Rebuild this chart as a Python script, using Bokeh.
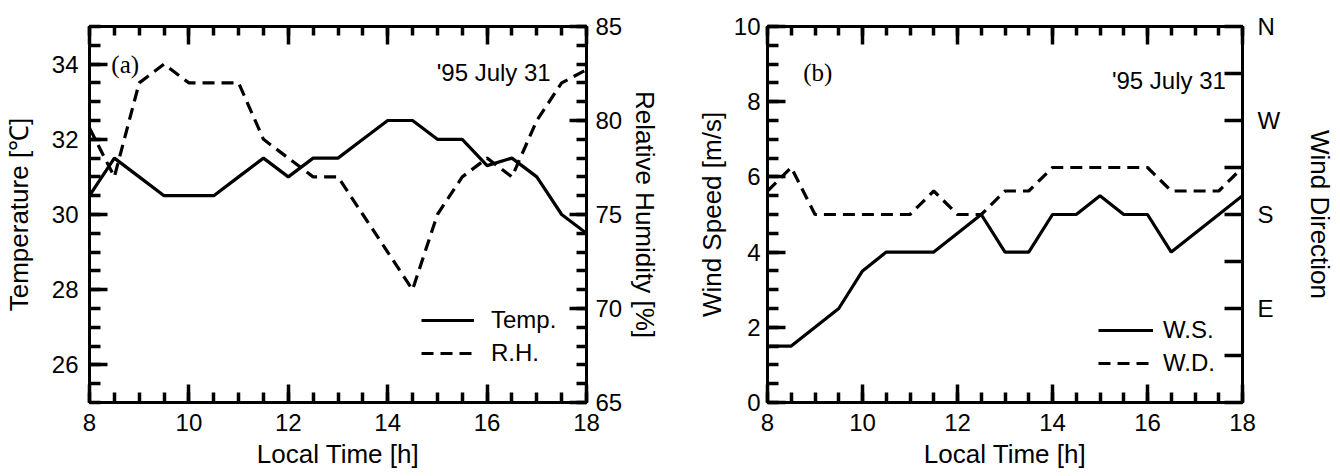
from bokeh.plotting import figure
from bokeh.models import (Range1d, LinearAxis, SingleIntervalTicker, FixedTicker,
                          Legend, LegendItem, Label, CustomLabelingPolicy)
from bokeh.layouts import row
from bokeh.embed import file_html
from bokeh.resources import INLINE

# ---------------- data ----------------
hours = [8.0, 8.5, 9.0, 9.5, 10.0, 10.5, 11.0, 11.5, 12.0, 12.5, 13.0,
         13.5, 14.0, 14.5, 15.0, 15.5, 16.0, 16.5, 17.0, 17.5, 18.0]
temp_c = [30.5, 31.5, 31.0, 30.5, 30.5, 30.5, 31.0, 31.5, 31.0, 31.5, 31.5,
          32.0, 32.5, 32.5, 32.0, 32.0, 31.3, 31.5, 31.0, 30.0, 29.5]
rel_hum = [79.6, 77.0, 82.0, 83.0, 82.0, 82.0, 82.0, 79.0, 78.0, 77.0, 77.0,
           75.0, 73.0, 71.0, 75.0, 77.0, 78.0, 77.0, 80.0, 82.0, 82.7]
wind_speed = [1.5, 1.5, 2.0, 2.5, 3.5, 4.0, 4.0, 4.0, 4.5, 5.0, 4.0,
              4.0, 5.0, 5.0, 5.5, 5.0, 5.0, 4.0, 4.5, 5.0, 5.5]
wind_dir = [202.5, 225.0, 180.0, 180.0, 180.0, 180.0, 180.0, 202.5, 180.0, 180.0, 202.5,
            202.5, 225.0, 225.0, 225.0, 225.0, 225.0, 202.5, 202.5, 202.5, 225.0]
dir_ticks = [90, 180, 270, 360]
dir_labels = ["E", "S", "W", "N"]
dir_minor_ticks = [0, 45, 135, 225, 315]

SANS = "Liberation Sans"
SERIF = "Liberation Serif"
DASH = "12 7"
TICK_FS = "24px"
TITLE_FS = "26px"


def style_axis(ax, major_in=18, minor_in=10, standoff=10, title_standoff=5):
    ax.axis_line_color = "black"
    ax.axis_line_width = 3
    ax.major_tick_in = major_in
    ax.major_tick_out = 0
    ax.minor_tick_in = minor_in
    ax.minor_tick_out = 0
    ax.major_tick_line_width = 3.5
    ax.minor_tick_line_width = 3.5
    ax.major_tick_line_color = "black"
    ax.minor_tick_line_color = "black"
    ax.major_label_text_font = SANS
    ax.major_label_text_font_size = TICK_FS
    ax.major_label_text_color = "black"
    ax.major_label_standoff = standoff
    ax.axis_label_text_font = SANS
    ax.axis_label_text_font_size = TITLE_FS
    ax.axis_label_text_font_style = "normal"
    ax.axis_label_text_color = "black"
    ax.axis_label_standoff = title_standoff


def base_fig(width, ymin, ymax, bl, br, bt, bb):
    p = figure(width=width, height=474, x_range=Range1d(8, 18), y_range=Range1d(ymin, ymax),
               output_backend="svg", toolbar_location=None,
               min_border_left=bl, min_border_right=br, min_border_top=bt, min_border_bottom=bb)
    p.xgrid.visible = False
    p.ygrid.visible = False
    p.outline_line_color = "black"
    p.outline_line_width = 3
    p.background_fill_color = "white"
    p.border_fill_color = "white"
    return p


def top_ticks(p):
    # mirrored time axis on the top edge: ticks only, no labels drawn
    ax = LinearAxis(ticker=SingleIntervalTicker(interval=2, num_minor_ticks=4))
    style_axis(ax, major_in=18, minor_in=9, standoff=0, title_standoff=0)
    ax.major_label_text_font_size = "0px"
    ax.major_label_policy = CustomLabelingPolicy(code="""
        for (const i of indices) { indices.unset(i) }
        return indices
    """)
    p.add_layout(ax, "above")


# ---------------- panel (a) ----------------
pa = base_fig(688, 25, 35, 88, 102, 26, 72)
pa.extra_y_ranges = {"rh": Range1d(65, 85)}

pa.xaxis[0].ticker = SingleIntervalTicker(interval=2, num_minor_ticks=4)
pa.xaxis[0].axis_label = "Local Time [h]"
style_axis(pa.xaxis[0], standoff=11, title_standoff=5)

pa.yaxis[0].ticker = SingleIntervalTicker(interval=2, num_minor_ticks=4)
pa.yaxis[0].axis_label = "Temperature [℃]"
style_axis(pa.yaxis[0], minor_in=11, standoff=11, title_standoff=15)

rh_axis = LinearAxis(y_range_name="rh", ticker=SingleIntervalTicker(interval=5, num_minor_ticks=5),
                     axis_label="Relative Humidity [%]")
style_axis(rh_axis, major_in=17, minor_in=10, standoff=9, title_standoff=5)
pa.add_layout(rh_axis, "right")
top_ticks(pa)

r_t = pa.line(hours, temp_c, line_color="black", line_width=3.2)
r_h = pa.line(hours, rel_hum, y_range_name="rh", line_color="black", line_width=3.2,
              line_dash=DASH)

leg_a = Legend(items=[LegendItem(label="Temp.", renderers=[r_t]),
                      LegendItem(label="R.H.", renderers=[r_h])],
               location=(332, 35), padding=0, margin=0, spacing=5,
               glyph_width=53, glyph_height=28, label_height=28, label_standoff=17,
               label_text_font=SANS, label_text_font_size="24px", label_text_color="black",
               background_fill_alpha=0, border_line_alpha=0)
pa.add_layout(leg_a, "center")

pa.add_layout(Label(x=8.44, y=34.0, text="(a)", text_font=SERIF, text_font_size="25px",
                    text_color="black", text_baseline="middle", text_align="left"))
pa.add_layout(Label(x=17.28, y=33.78, text="'95 July 31", text_font=SANS, text_font_size="24px",
                    text_color="black", text_baseline="middle", text_align="right"))

# ---------------- panel (b) ----------------
pb = base_fig(650, 0, 10, 79, 91, 20, 72)
pb.extra_y_ranges = {"wd": Range1d(0, 360)}

pb.xaxis[0].ticker = SingleIntervalTicker(interval=2, num_minor_ticks=4)
pb.xaxis[0].axis_label = "Local Time [h]"
style_axis(pb.xaxis[0], standoff=11, title_standoff=5)

pb.yaxis[0].ticker = SingleIntervalTicker(interval=2, num_minor_ticks=4)
pb.yaxis[0].axis_label = "Wind Speed [m/s]"
style_axis(pb.yaxis[0], minor_in=11, standoff=7, title_standoff=4)

wd_axis = LinearAxis(y_range_name="wd",
                     ticker=FixedTicker(ticks=dir_ticks, minor_ticks=dir_minor_ticks),
                     axis_label="Wind Direction")
wd_axis.major_label_overrides = {t: lab for t, lab in zip(dir_ticks, dir_labels)}
style_axis(wd_axis, major_in=18, minor_in=18, standoff=15, title_standoff=22)
pb.add_layout(wd_axis, "right")
top_ticks(pb)

r_s = pb.line(hours, wind_speed, line_color="black", line_width=3.2)
r_d = pb.line(hours, wind_dir, y_range_name="wd", line_color="black", line_width=3.2,
              line_dash=DASH)

leg_b = Legend(items=[LegendItem(label="W.S.", renderers=[r_s]),
                      LegendItem(label="W.D.", renderers=[r_d])],
               location=(331, 25), padding=0, margin=0, spacing=5,
               glyph_width=55, glyph_height=28, label_height=28, label_standoff=10,
               label_text_font=SANS, label_text_font_size="24px", label_text_color="black",
               background_fill_alpha=0, border_line_alpha=0)
pb.add_layout(leg_b, "center")

pb.add_layout(Label(x=8.75, y=8.77, text="(b)", text_font=SERIF, text_font_size="25px",
                    text_color="black", text_baseline="middle", text_align="left"))
pb.add_layout(Label(x=17.65, y=8.56, text="'95 July 31", text_font=SANS, text_font_size="24px",
                    text_color="black", text_baseline="middle", text_align="right"))

layout = row(pa, pb, spacing=0)
open("out.html", "w").write(file_html(layout, INLINE))
